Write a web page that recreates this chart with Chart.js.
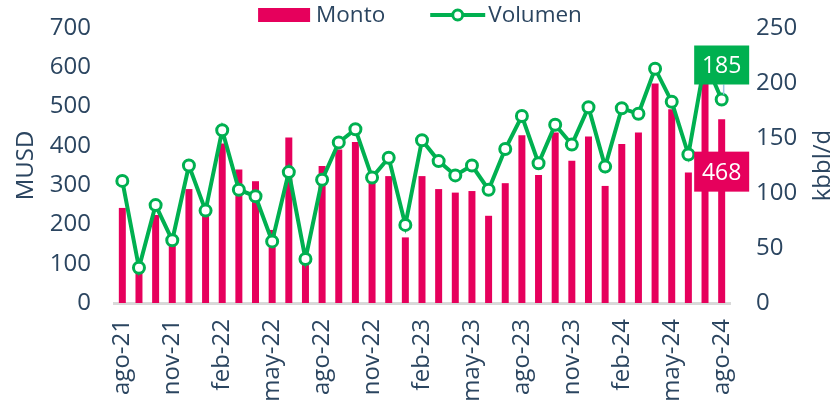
<!DOCTYPE html>
<html>
<head>
<meta charset="utf-8">
<script src="https://cdn.jsdelivr.net/npm/chart.js@4.4.0/dist/chart.umd.min.js"></script>
<style>
  html, body { margin: 0; padding: 0; background: #ffffff; }
  #wrap { width: 836px; height: 403px; position: relative; }
</style>
</head>
<body>
<div id="wrap"><canvas id="c"></canvas></div>
<script>
const categories = ['ago-21','sep-21','oct-21','nov-21','dic-21','ene-22','feb-22','mar-22','abr-22','may-22','jun-22','jul-22',
  'ago-22','sep-22','oct-22','nov-22','dic-22','ene-23','feb-23','mar-23','abr-23','may-23','jun-23','jul-23',
  'ago-23','sep-23','oct-23','nov-23','dic-23','ene-24','feb-24','mar-24','abr-24','may-24','jun-24','jul-24','ago-24'];
const monto = [242, 85, 224, 155, 290, 232, 406, 340, 310, 186, 421, 120, 349, 391, 410, 309, 323, 167, 323, 290, 281, 285, 222, 305,
  427, 326, 434, 362, 424, 298, 405, 434, 559, 493, 332, 580, 468];
const volumen = [111, 32, 89, 57, 125, 84, 157, 103, 97, 56, 119, 40, 112, 146, 158, 114, 132, 71, 148, 129, 116, 125, 103, 140,
  170, 127, 162, 144, 178, 124, 177, 172, 213, 183, 135, 220, 185];
const leftTicks = [0, 100, 200, 300, 400, 500, 600, 700];
const rightTicks = [0, 50, 100, 150, 200, 250];
const seriesNames = ['Monto', 'Volumen'];
const axisTitles = ['MUSD', 'kbbl/d'];

const PINK = '#E6005C';
const GREEN = '#00B050';
const TEXT = '#2B4560';
const FONT = "'Open Sans', sans-serif";

// Legend, axis titles and end-of-series value boxes
const decorations = {
  id: 'decorations',
  afterDraw(chart) {
    const ctx = chart.ctx;
    const area = chart.chartArea;
    ctx.save();
    // --- legend ---
    ctx.font = "22.5px " + FONT;
    ctx.textBaseline = 'middle';
    ctx.textAlign = 'left';
    const w1 = ctx.measureText(seriesNames[0]).width;
    const w2 = ctx.measureText(seriesNames[1]).width;
    const total = 52 + 6 + w1 + 45 + 55 + 3 + w2;
    let x = 420 - total / 2;
    const ly = 15;
    ctx.fillStyle = PINK;
    ctx.fillRect(x, ly - 7, 52, 14);
    x += 58;
    ctx.fillStyle = TEXT;
    ctx.fillText(seriesNames[0], x, ly + 1);
    x += w1 + 45;
    ctx.strokeStyle = GREEN; ctx.lineWidth = 4;
    ctx.beginPath(); ctx.moveTo(x, ly); ctx.lineTo(x + 55, ly); ctx.stroke();
    ctx.fillStyle = '#fff'; ctx.lineWidth = 3;
    ctx.beginPath(); ctx.arc(x + 27.5, ly, 5, 0, Math.PI * 2); ctx.fill(); ctx.stroke();
    x += 58;
    ctx.fillStyle = TEXT;
    ctx.fillText(seriesNames[1], x, ly + 1);

    // --- axis titles (both read bottom-to-top) ---
    const cy = (area.top + area.bottom) / 2;
    ctx.font = "24px " + FONT;
    ctx.textAlign = 'center';
    ctx.fillStyle = TEXT;
    ctx.save(); ctx.translate(26, cy); ctx.rotate(-Math.PI / 2); ctx.fillText(axisTitles[0], 0, 0); ctx.restore();
    ctx.save(); ctx.translate(823, cy); ctx.rotate(-Math.PI / 2); ctx.fillText(axisTitles[1], 0, 0); ctx.restore();

    // --- value boxes for last point ---
    const i = categories.length - 1;
    const barEl = chart.getDatasetMeta(0).data[i];
    const ptEl = chart.getDatasetMeta(1).data[i];
    const w = 55, h = 39;
    ctx.strokeStyle = '#9DC3E6';
    ctx.lineWidth = 1.5;
    ctx.beginPath();
    ctx.moveTo(ptEl.x + 2, ptEl.y - 34.5 + h / 2);
    ctx.lineTo(ptEl.x + 2, ptEl.y - 5);
    ctx.stroke();
    ctx.fillStyle = GREEN;
    ctx.fillRect(ptEl.x - w / 2, ptEl.y - 34.5 - h / 2, w, h);
    ctx.fillStyle = '#fff';
    ctx.font = "23px " + FONT;
    ctx.textAlign = 'center';
    ctx.textBaseline = 'middle';
    ctx.fillText(String(volumen[i]), ptEl.x, ptEl.y - 34.5 + 1);
    ctx.fillStyle = PINK;
    ctx.fillRect(barEl.x - w / 2, barEl.y + 53 - h / 2 - 1, w, h + 1);
    ctx.fillStyle = '#fff';
    ctx.fillText(String(monto[i]), barEl.x, barEl.y + 53 + 1);
    ctx.restore();
  }
};

new Chart(document.getElementById('c'), {
  type: 'bar',
  data: {
    labels: categories,
    datasets: [
      {
        type: 'bar',
        label: seriesNames[0],
        data: monto,
        backgroundColor: PINK,
        barPercentage: 0.42,
        categoryPercentage: 1.0,
        yAxisID: 'y',
        order: 1
      },
      {
        type: 'line',
        label: seriesNames[1],
        data: volumen,
        borderColor: GREEN,
        borderWidth: 4,
        pointRadius: 5.5,
        pointBackgroundColor: '#ffffff',
        pointBorderColor: GREEN,
        pointBorderWidth: 3,
        tension: 0,
        yAxisID: 'y1',
        order: 0
      }
    ]
  },
  options: {
    responsive: true,
    maintainAspectRatio: false,
    animation: false,
    devicePixelRatio: 1,
    layout: { padding: { left: 0, right: 0, top: 28, bottom: 0 } },
    plugins: {
      tooltip: { enabled: false },
      legend: { display: false }
    },
    scales: {
      x: {
        grid: { display: false, drawTicks: false },
        border: { color: '#D9D9D9', width: 3 },
        ticks: {
          color: TEXT,
          font: { family: FONT, size: 24 },
          autoSkip: false,
          minRotation: 90,
          maxRotation: 90,
          padding: 16,
          callback: (v, i) => (i % 3 === 0 ? categories[i] : '')
        },
        afterFit(s) { s.height = 100; }
      },
      y: {
        position: 'left',
        min: 0,
        max: 700,
        grid: { display: false, drawTicks: false },
        border: { display: false },
        afterBuildTicks(s) { s.ticks = leftTicks.map(v => ({ value: v })); },
        ticks: { color: TEXT, font: { family: FONT, size: 24 }, padding: 23 },
        afterFit(s) { s.width = 114; s.paddingTop = 12; s.paddingBottom = 12; }
      },
      y1: {
        position: 'right',
        min: 0,
        max: 250,
        grid: { display: false, drawTicks: false },
        border: { display: false },
        afterBuildTicks(s) { s.ticks = rightTicks.map(v => ({ value: v })); },
        ticks: { color: TEXT, font: { family: FONT, size: 24 }, padding: 26 },
        afterFit(s) { s.width = 106; s.paddingTop = 12; s.paddingBottom = 12; }
      }
    }
  },
  plugins: [decorations]
});
</script>
</body>
</html>
